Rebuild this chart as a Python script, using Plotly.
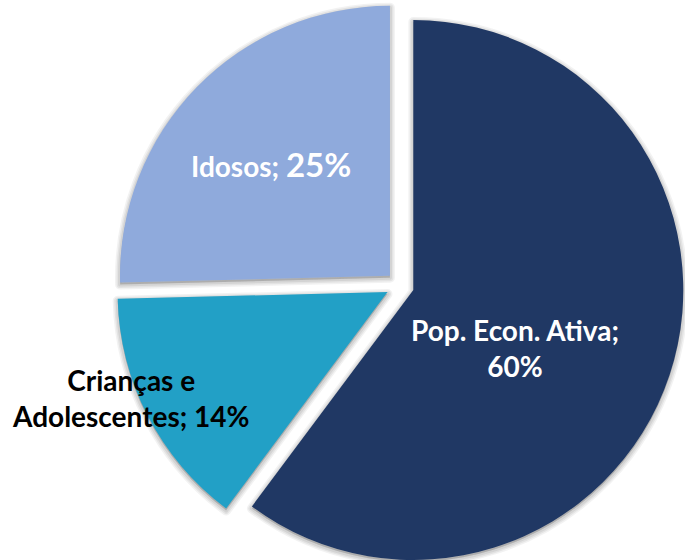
import plotly.graph_objects as go

# ---- data ----
labels = ["Pop. Econ. Ativa", "Crianças e Adolescentes", "Idosos"]
values = [60.2, 14.4, 25.4]
pct_labels = ["60%", "14%", "25%"]

# ---- style ----
colors = ["#203864", "#22A0C6", "#8FAADC"]
W, H = 685, 572
PULL = 0.052
BOX = 568.0          # pie box size in px
CX, TOP = 400.0, 1.6  # pie box centre x and top in px
FONT = "Lato"

dom_x = [(CX - BOX / 2) / W, min(1.0, (CX + BOX / 2) / W)]
def dom_y(shift=0.0):
    top = TOP + shift
    return [(H - top - BOX) / H, (H - top) / H]

fig = go.Figure()

# soft drop shadow layers (drawn underneath)
for w, a in [(10, 0.05), (7, 0.06), (4, 0.07)]:
    fig.add_trace(go.Pie(
        labels=labels, values=values, sort=False, direction="clockwise", rotation=0,
        pull=[PULL] * len(values),
        marker=dict(colors=["rgba(0,0,0,%.2f)" % a] * len(values),
                    line=dict(width=w, color="rgba(0,0,0,%.2f)" % a)),
        textinfo="none", hoverinfo="skip", showlegend=False,
        domain=dict(x=dom_x, y=dom_y(2.0)),
    ))

fig.add_trace(go.Pie(
    labels=labels, values=values, sort=False, direction="clockwise", rotation=0,
    pull=[PULL] * len(values),
    marker=dict(colors=colors, line=dict(width=0)),
    textinfo="none", hoverinfo="label+percent", showlegend=False,
    domain=dict(x=dom_x, y=dom_y(0.0)),
))

# pie geometry (same rule plotly uses) to place labels
r = BOX / (2 + 2 * PULL)
cx = CX
cy = TOP + BOX / 2

label_text = [
    "<b>Pop. Econ. Ativa;<br>%s</b>" % pct_labels[0],
    "<b>Crianças e<br>Adolescentes; %s</b>" % pct_labels[1],
    "<b>Idosos; <span style='font-size:33px'>%s</span></b>" % pct_labels[2],
]
label_off = [(0.426, 0.232), (-0.996, 0.415), (-0.478, -0.452)]
label_color = ["white", "black", "white"]
label_size = [28, 28, 28]

for t, (ox, oy), c, s in zip(label_text, label_off, label_color, label_size):
    px = cx + ox * r
    py = cy + oy * r
    fig.add_annotation(x=px / W, y=1 - py / H, xref="paper", yref="paper",
                       text=t, showarrow=False, xanchor="center", yanchor="middle",
                       font=dict(family=FONT, size=s, color=c), align="center")

fig.update_layout(width=W, height=H, margin=dict(l=0, r=0, t=0, b=0),
                  paper_bgcolor="white", plot_bgcolor="white")
fig.write_html("out.html", config={"displayModeBar": False},
               post_script="document.body.style.margin='0';"
                           "document.body.style.overflow='hidden';")
